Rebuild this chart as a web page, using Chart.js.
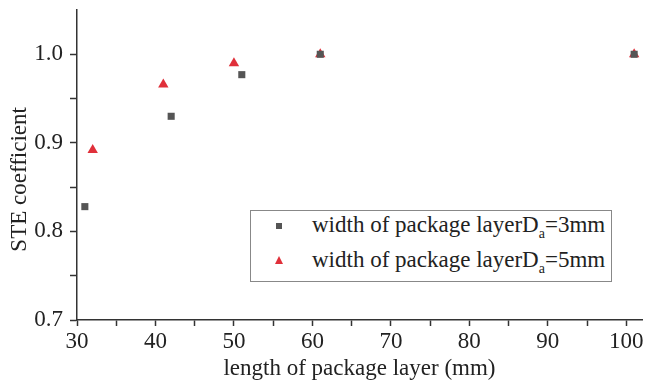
<!DOCTYPE html>
<html lang="en">
<head>
  <meta charset="UTF-8">
  <title>STE coefficient</title>
  <script src="https://cdn.jsdelivr.net/npm/chart.js"></script>
  <style>
    body { margin: 0; background: #fff; }
    #wrap { position: relative; width: 648px; height: 383px; }
    canvas { display: block; }
    #legend {
      position: absolute; left: 250px; top: 210px; width: 362px; height: 72px; box-sizing: border-box;
      border: 1.5px solid #888; background: #fff;
      font-family: "Liberation Serif", serif; font-size: 23px; color: #222;
    }
    #legend .row { position: absolute; left: 0; height: 26px; line-height: 26px; white-space: nowrap; }
    #legend .txt { position: absolute; left: 61px; top: 0; }
    #legend .sub { position: relative; top: 6px; font-size: 14px; }
    .mk { position: absolute; }
    .sq { left: 25px; top: 12px; width: 6px; height: 6px; background: #555; }
    .tri { left: 24px; top: 45px; width: 0; height: 0; border-left: 4.5px solid transparent; border-right: 4.5px solid transparent; border-bottom: 8px solid #e0303a; }
  </style>
</head>
<body>
<div id="wrap">
  <canvas id="graph" width="648" height="383"></canvas>
  <div id="legend">
    <span class="mk sq"></span>
    <span class="mk tri"></span>
    <div class="row" style="top:1px"><span class="txt">width of package layerD<span class="sub">a</span>=3mm</span></div>
    <div class="row" style="top:36px"><span class="txt">width of package layerD<span class="sub">a</span>=5mm</span></div>
  </div>
</div>
<script>
  const lengthA = [31, 42, 51, 61, 101];
  const steA = [0.828, 0.930, 0.977, 1.000, 1.000];
  const lengthB = [32, 41, 50, 61, 101];
  const steB = [0.892, 0.966, 0.990, 1.000, 1.000];
  const xTickLabels = [30, 40, 50, 60, 70, 80, 90, 100];
  const yTickLabels = [0.7, 0.8, 0.9, 1.0];

  const font = { family: '"Liberation Serif", serif', size: 23 };
  const axisColor = '#333';

  const ctx = document.getElementById('graph').getContext('2d');
  new Chart(ctx, {
    type: 'scatter',
    data: {
      datasets: [
        {
          label: 'Da=3mm',
          data: lengthA.map((x, i) => ({ x: x, y: steA[i] })),
          pointStyle: 'rect', pointRadius: 5,
          backgroundColor: '#555', borderColor: '#555', borderWidth: 0
        },
        {
          label: 'Da=5mm',
          data: lengthB.map((x, i) => ({ x: x, y: steB[i] })),
          pointStyle: 'triangle', pointRadius: 6,
          backgroundColor: '#e0303a', borderColor: '#e0303a', borderWidth: 0
        }
      ]
    },
    options: {
      responsive: false,
      animation: false,
      layout: { padding: { top: 10, right: 3, left: 0, bottom: 0 } },
      plugins: { legend: { display: false }, tooltip: { enabled: false } },
      scales: {
        x: {
          type: 'linear', min: 30, max: 102,
          afterBuildTicks: s => {
            const t = [];
            for (let v = 30; v <= 100; v += 5) t.push({ value: v });
            s.ticks = t;
          },
          afterFit: s => { s.height = 63; },
          ticks: {
            color: '#222', font: font, padding: 2, maxRotation: 0, autoSkip: false,
            callback: v => xTickLabels.includes(v) ? String(v) : ''
          },
          grid: { drawOnChartArea: false, tickLength: 6, tickColor: axisColor, tickWidth: 1.5 },
          border: { color: axisColor, width: 1.5 },
          title: { display: true, text: 'length of package layer (mm)', color: '#222', font: font, padding: { top: 0, bottom: 0 } }
        },
        y: {
          type: 'linear', min: 0.7, max: 1.05,
          afterBuildTicks: s => {
            const t = [];
            for (let k = 0; k <= 6; k++) t.push({ value: Math.round((0.7 + k * 0.05) * 100) / 100 });
            s.ticks = t;
          },
          afterFit: s => { s.width = 77; s.paddingTop = 0; s.paddingBottom = 0; },
          ticks: {
            color: '#222', font: font, padding: 7, autoSkip: false,
            callback: v => yTickLabels.some(t => Math.abs(t - v) < 1e-6) ? v.toFixed(1) : ''
          },
          grid: { drawOnChartArea: false, tickLength: 7, tickColor: axisColor, tickWidth: 1.5 },
          border: { color: axisColor, width: 1.5 },
          // trailing spaces nudge the rotated title down a little, like the original
          title: { display: true, text: 'STE coefficient     ', color: '#222', font: font, padding: { top: 6, bottom: 0 } }
        }
      }
    }
  });
</script>
</body>
</html>
